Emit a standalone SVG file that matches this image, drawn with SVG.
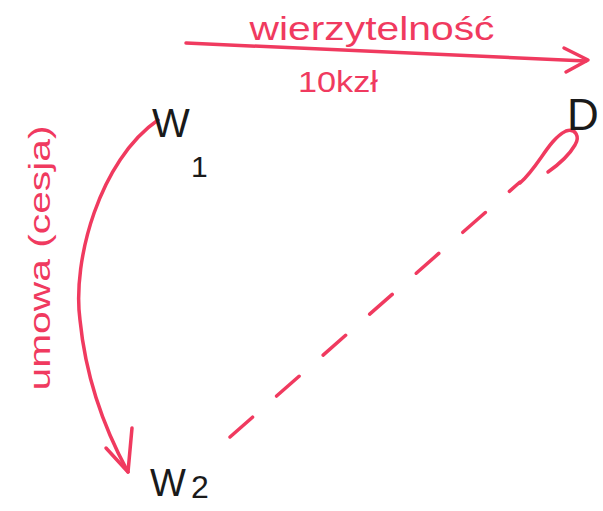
<svg xmlns="http://www.w3.org/2000/svg" width="603" height="511" viewBox="0 0 603 511">
<style>
.red{fill:none;stroke:#f03a5f;stroke-width:3.5;stroke-linecap:round;stroke-linejoin:round}
.rt{fill:#f03a5f;font-family:"Liberation Sans",sans-serif}
.bt{fill:#1a1a1a;font-family:"Liberation Sans",sans-serif}
</style>
<rect width="603" height="511" fill="#ffffff"/>
<g id="connectors">
  <g id="edge-wierzytelnosc">
    <path class="red" d="M186,43 L586,61"/>
    <path class="red" d="M564,48 L588,60 L566,72"/>
    <text class="rt" x="372" y="40" font-size="34" text-anchor="middle" textLength="245" lengthAdjust="spacingAndGlyphs">wierzytelność</text>
    <text class="rt" x="338" y="92" font-size="30" text-anchor="middle" textLength="80" lengthAdjust="spacingAndGlyphs">10kzł</text>
  </g>
  <g id="edge-umowa">
    <path class="red" d="M158,120 C100,160 72,260 80,320 C86,380 105,430 128,472"/>
    <path class="red" d="M106,448 L128,472 L132,428"/>
    <text class="rt" transform="translate(50,258) rotate(-90)" x="0" y="0" font-size="30" text-anchor="middle" textLength="265" lengthAdjust="spacingAndGlyphs">umowa (cesja)</text>
  </g>
  <g id="edge-w2-d">
    <path class="red" d="M230,437 L520,182" stroke-dasharray="30 32"/>
    <path class="red" d="M520,183 C540,165 548,140 566,131 C576,128 580,137 575,145 C568,157 558,165 548,172"/>
  </g>
</g>
<g id="W1">
  <text class="bt" x="152" y="137" font-size="40">W</text>
  <text class="bt" x="191" y="177" font-size="30">1</text>
</g>
<g id="W2">
  <text class="bt" x="150" y="496" font-size="38">W</text>
  <text class="bt" x="191" y="498" font-size="32">2</text>
</g>
<g id="D">
  <text class="bt" x="567" y="130" font-size="44">D</text>
</g>
</svg>
